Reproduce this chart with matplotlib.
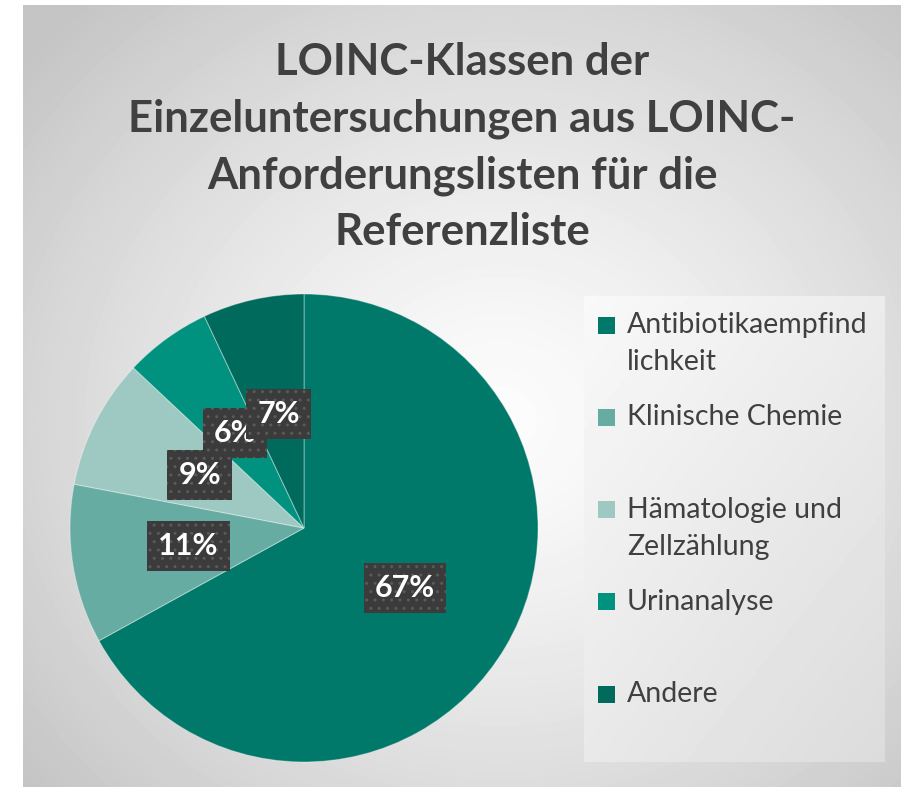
import matplotlib
matplotlib.use("Agg")
import matplotlib.pyplot as plt
import numpy as np

# data
categories = ["Antibiotikaempfind\nlichkeit", "Klinische Chemie", "Hämatologie und\nZellzählung",
              "Urinanalyse", "Andere"]
shares = [67, 11, 9, 6, 7]
colors = ["#00786A", "#66ACA2", "#9EC8C2", "#00917F", "#006A5D"]
title = "LOINC-Klassen der\nEinzeluntersuchungen aus LOINC-\nAnforderungslisten für die\nReferenzliste"

W, H = 903, 787
FONT = "Lato"
TXT = "#404040"

fig = plt.figure(figsize=(W / 100, H / 100), dpi=100)
fig.patch.set_facecolor("white")

# chart area with radial grey gradient
ax_bg = fig.add_axes([23 / W, 0, (901 - 23) / W, (787 - 5) / H])
yy, xx = np.mgrid[5:787, 23:901]
d = np.hypot(xx - 500, (yy - 420) * 1.1) / 620
d = np.clip(d, 0, 1)
shade = 0.99 - 0.22 * d ** 1.3
ax_bg.imshow(shade, cmap="gray", vmin=0, vmax=1, aspect="auto", interpolation="bilinear")
ax_bg.axis("off")

# title
fig.text(462 / W, 1 - 147 / H, title, ha="center", va="center", fontsize=31.5,
         fontweight="bold", color=TXT, family=FONT, linespacing=1.5)

# pie
cx, cy, r = 304, 528, 234
ax = fig.add_axes([(cx - r) / W, (H - cy - r) / H, 2 * r / W, 2 * r / H])
wedges, texts, autotexts = ax.pie(
    shares, colors=colors, startangle=90, counterclock=False, radius=1.0,
    autopct="%1.0f%%", pctdistance=0.5,
    wedgeprops=dict(edgecolor=(1, 1, 1, 0.35), linewidth=0.8),
)
for t in autotexts:
    t.set_color("white")
    t.set_fontsize(22)
    t.set_fontweight("bold")
    t.set_family(FONT)
    t.set_bbox(dict(boxstyle="square,pad=0.36", facecolor="#3b3b3b", edgecolor="#5a5a5a",
                    linewidth=0, hatch=".."))
ax.set_xlim(-1, 1)
ax.set_ylim(-1, 1)
ax.set_aspect("equal")
ax.axis("off")

# legend box
lx0, ly0, lx1, ly1 = 584, 296, 885, 762
ax_lg = fig.add_axes([lx0 / W, (H - ly1) / H, (lx1 - lx0) / W, (ly1 - ly0) / H])
gy, gx = np.mgrid[0:ly1 - ly0, 0:lx1 - lx0]
g = (gx / (lx1 - lx0) * 0.45 + gy / (ly1 - ly0) * 0.55)
ax_lg.imshow(0.975 - 0.115 * g, cmap="gray", vmin=0, vmax=1, aspect="auto",
             extent=(0, lx1 - lx0, ly1 - ly0, 0), interpolation="bilinear")
ax_lg.set_xlim(0, lx1 - lx0)
ax_lg.set_ylim(ly1 - ly0, 0)
ax_lg.axis("off")

step = 92.3
for i, (lab, col) in enumerate(zip(categories, colors)):
    y0 = 29 + i * step
    ax_lg.add_patch(plt.Rectangle((14, y0 - 8.5), 17, 17, facecolor=col, edgecolor="none"))
    for j, line in enumerate(lab.split("\n")):
        ax_lg.text(43, y0 + j * 37, line, ha="left", va="center", fontsize=20.5,
                   color=TXT, family=FONT)

fig.savefig("out.png", dpi=100)
